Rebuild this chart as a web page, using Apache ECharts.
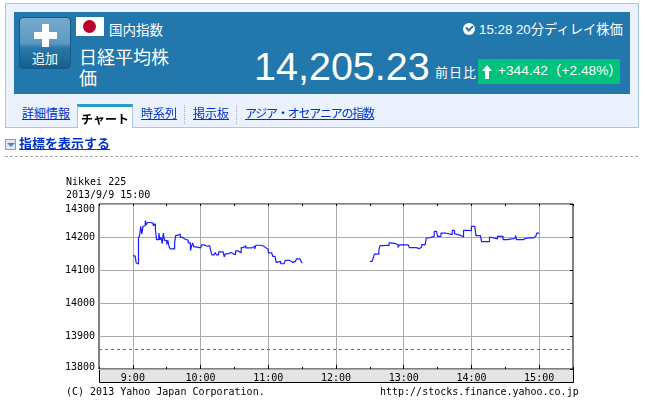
<!DOCTYPE html>
<html lang="ja">
<head>
<meta charset="utf-8">
<title>日経平均株価</title>
<script src="https://cdn.jsdelivr.net/npm/echarts@6/dist/echarts.min.js"></script>
<style>
html, body { margin: 0; padding: 0; background: #fff; overflow: hidden; }
body { width: 645px; height: 403px; position: relative; font-family: "Noto Sans CJK JP", sans-serif; }
#chart { position: absolute; left: 0; top: 0; width: 645px; height: 403px; }
.abs { position: absolute; white-space: nowrap; line-height: 1; }
#box { left: 5px; top: 3px; width: 632px; height: 123px; background: #ebf2fe; border: 1px solid #a9c6ea; }
#panel { left: 14px; top: 12px; width: 616px; height: 82px; background: #2277ad; }
#add { left: 19px; top: 17px; width: 50px; height: 50px; border: 1px solid #175a85; border-radius: 4px; background: linear-gradient(#74aacd, #5c9ac3 50%, #2a78a8 60%, #155f8e); color: #fff; }
#flag { left: 76px; top: 17px; width: 28px; height: 19px; background: #fff; }
#flag i { position: absolute; left: 7px; top: 3px; width: 13px; height: 13px; border-radius: 50%; background: #bc002d; }
.w { color: #fff; }
.tab { top: 107px; font-size: 12px; color: #0033cc; text-decoration: underline; }
.sep { top: 105px; height: 19px; border-left: 1px dotted #8fb4dc; }
#active { left: 77px; top: 104px; width: 54px; height: 21px; background: #fff; border-top: 3px solid #2a9ac8; border-left: 1px solid #a9c6ea; border-right: 1px solid #a9c6ea; text-align: center; font-size: 12px; font-weight: bold; line-height: 24px; color: #000; }
</style>
</head>
<body>
<div id="chart"></div>
<div class="abs" id="box"></div>
<div class="abs" id="panel"></div>
<div class="abs" id="add"></div>
<div class="abs" style="left:42px;top:24px;width:7px;height:23px;background:#fff"></div>
<div class="abs" style="left:34px;top:32px;width:23px;height:7px;background:#fff"></div>
<div class="abs w" style="left:32px;top:51px;font-size:13px">追加</div>
<div class="abs" id="flag"><i></i></div>
<div class="abs w" style="left:109px;top:23px;font-size:13.5px">国内指数</div>
<div class="abs w" style="left:79px;top:46px;font-size:18px;line-height:21px;width:90px;white-space:normal">日経平均株価</div>
<div class="abs w" style="left:254px;top:47px;font-size:39.5px;font-family:'Liberation Sans',sans-serif">14,205.23</div>
<div class="abs w" style="left:435px;top:65px;font-size:13px;letter-spacing:1px">前日比</div>
<div class="abs" style="left:478px;top:59px;width:142px;height:25px;background:#00c27c"></div>
<div class="abs" style="left:485px;top:70px;width:4px;height:9px;background:#fff"></div>
<div class="abs" style="left:482px;top:65px;width:0;height:0;border-left:5px solid transparent;border-right:5px solid transparent;border-bottom:6px solid #fff"></div>
<div class="abs w" style="left:498px;top:64px;font-size:13.7px;font-family:'Liberation Sans','Noto Sans CJK JP',sans-serif">+344.42（+2.48%）</div>
<div class="abs" style="left:463px;top:23px;width:12px;height:12px;border-radius:50%;background:#fff"></div>
<div class="abs" style="left:466px;top:25px;width:5px;height:3px;border-left:2px solid #2277ad;border-bottom:2px solid #2277ad;transform:rotate(-45deg)"></div>
<div class="abs w" style="left:479px;top:23px;font-size:13.3px;font-family:'Liberation Sans','Noto Sans CJK JP',sans-serif">15:28 20分ディレイ株価</div>
<div class="abs tab" style="left:22px">詳細情報</div>
<div class="abs" id="active">チャート</div>
<div class="abs tab" style="left:141px">時系列</div>
<div class="abs sep" style="left:184px"></div>
<div class="abs tab" style="left:193px">掲示板</div>
<div class="abs sep" style="left:236px"></div>
<div class="abs tab" style="left:245px;letter-spacing:-1.2px">アジア・オセアニアの指数</div>
<div class="abs" style="left:5px;top:139px;width:9px;height:9px;border:1px solid #8a9db5;background:#dfe8f3"></div>
<div class="abs" style="left:7px;top:143px;width:0;height:0;border-left:4px solid transparent;border-right:4px solid transparent;border-top:4px solid #4f86bd"></div>
<div class="abs" style="left:19px;top:136px;font-size:13px;font-weight:bold;color:#0033cc;text-decoration:underline">指標を表示する</div>
<div class="abs" style="left:5px;top:156px;width:633px;border-top:1px dashed #aaa"></div>
<script>
// half hour steps along the bottom, the labelled ones are the full hours
var timeLabels = ['8:30','9:00','9:30','10:00','10:30','11:00','11:30','12:00','12:30','13:00','13:30','14:00','14:30','15:00','15:30'];
// minutes after 9:00
var amMinutes = [0,2,3,4,5,6,7,8,9,10,11,12,13,15,18,19,20,21,23,24,25,26,27,28,30,31,32,33,37,38,40,42,44,46,47,49,51,52,53,54,56,57,60,61,63,66,68,69,70,72,73,74,76,80,81,82,84,87,89,91,93,96,98,100,104,106,108,109,114,116,118,120,123,124,126,127,128,131,134,135,139,140,142,144,145,148,149,150];
var amValues = [14143,14148,14121,14118,14197,14205,14232,14209,14232,14234,14250,14237,14244,14242,14234,14240,14222,14192,14212,14192,14199,14180,14212,14190,14177,14190,14172,14164,14182,14205,14209,14199,14194,14197,14190,14182,14159,14172,14182,14170,14176,14167,14165,14176,14172,14174,14168,14159,14146,14143,14153,14146,14155,14152,14140,14149,14153,14149,14146,14158,14152,14168,14174,14167,14168,14172,14164,14175,14172,14167,14162,14152,14148,14141,14139,14123,14126,14119,14121,14129,14126,14123,14126,14123,14134,14133,14126,14121];
var pmMinutes = [210,212,213,214,218,219,222,225,227,229,230,233,235,236,244,245,251,254,256,259,260,262,267,269,270,273,277,283,285,286,291,293,297,300,303,304,308,309,316,318,323,328,332,337,339,340,346,348,353,355,357,358,360];
var pmValues = [14126,14129,14136,14148,14162,14174,14175,14174,14182,14187,14180,14176,14168,14176,14175,14168,14165,14170,14177,14180,14197,14202,14217,14214,14202,14212,14207,14220,14210,14204,14200,14220,14219,14232,14227,14204,14202,14186,14199,14194,14202,14192,14195,14197,14205,14192,14196,14198,14197,14202,14204,14212,14210];
var prevClose = 13860.81;
var chartTitle = 'Nikkei 225\n2013/9/9 15:00';
var copyright = '(C) 2013 Yahoo Japan Corporation.';
var siteUrl = 'http://stocks.finance.yahoo.co.jp';

function pairs(mins, vals) {
  return mins.map(function(m, i) { return [540 + m, vals[i]]; });
}
function isHour(index) {
  return index % 2 === 1;
}

var mono = 'DejaVu Sans Mono';
var chart = echarts.init(document.getElementById('chart'), null, { renderer: 'canvas' });

chart.setOption({
  animation: false,
  backgroundColor: 'transparent',
  title: {
    text: chartTitle,
    left: 66,
    top: 176,
    padding: 0,
    textStyle: { fontFamily: mono, fontSize: 10, fontWeight: 'normal', color: '#000', lineHeight: 13 }
  },
  grid: { left: 99, top: 204, width: 474, height: 165, show: true, backgroundColor: '#fff', borderColor: '#000', borderWidth: 1 },
  graphic: [
    { type: 'rect', shape: { x: 99.5, y: 369.5, width: 474, height: 13 }, style: { fill: '#e4e4e4', stroke: '#000', lineWidth: 1 }, z: 0 },
    { type: 'text', x: 66, y: 387, style: { text: copyright, fontFamily: mono, fontSize: 10, fill: '#000' } },
    { type: 'text', x: 380, y: 387, style: { text: siteUrl, fontFamily: mono, fontSize: 10, fill: '#000' } }
  ],
  xAxis: [
    // hidden scale the price lines are drawn on
    { type: 'value', min: 510, max: 930, show: false, splitLine: { show: false } },
    {
      type: 'category', position: 'bottom', boundaryGap: false, data: timeLabels,
      axisLine: { show: false },
      axisTick: { show: true, inside: true, length: 4, interval: isHour, lineStyle: { color: '#000' } },
      splitLine: { show: true, interval: isHour, lineStyle: { color: '#aaa', width: 1 } },
      axisLabel: { margin: 4, fontFamily: mono, fontSize: 10, color: '#000', interval: isHour, hideOverlap: false }
    },
    {
      type: 'category', position: 'bottom', boundaryGap: false, data: timeLabels,
      axisLine: { show: false },
      axisTick: { show: true, inside: true, length: 2, interval: 0, lineStyle: { color: '#000' } },
      splitLine: { show: false }, axisLabel: { show: false }
    },
    {
      type: 'category', position: 'top', boundaryGap: false, data: timeLabels,
      axisLine: { show: false },
      axisTick: { show: true, inside: true, length: 2, interval: 0, lineStyle: { color: '#000' } },
      splitLine: { show: false }, axisLabel: { show: false }
    }
  ],
  yAxis: [
    {
      type: 'value', position: 'left', min: 13800, max: 14300, interval: 100,
      axisLine: { show: false },
      axisTick: { show: false },
      splitLine: { show: true, lineStyle: { color: '#aaa', width: 1 } },
      axisLabel: {
        margin: 4, fontFamily: mono, fontSize: 10, color: '#000',
        verticalAlignMaxLabel: 'top',
        formatter: function(v) { return v === 13800 ? '{low|' + v + '}' : String(v); },
        rich: { low: { fontFamily: mono, fontSize: 10, color: '#000', padding: [0, 0, 4, 0] } }
      }
    },
    {
      type: 'value', position: 'right', min: 13800, max: 14300, interval: 100,
      axisLine: { show: false },
      axisTick: { show: true, inside: true, length: 3, lineStyle: { color: '#000' } },
      splitLine: { show: false }, axisLabel: { show: false }
    }
  ],
  series: [
    {
      name: 'morning', type: 'line', step: 'end', showSymbol: false, silent: true,
      xAxisIndex: 0,
      lineStyle: { color: '#1c1cff', width: 1.2 },
      data: pairs(amMinutes, amValues),
      z: 5,
      markLine: {
        silent: true, symbol: 'none', label: { show: false },
        lineStyle: { color: '#ee3333', type: [3, 3], width: 1 },
        data: [{ yAxis: prevClose }]
      }
    },
    {
      name: 'afternoon', type: 'line', step: 'end', showSymbol: false, silent: true,
      xAxisIndex: 0,
      lineStyle: { color: '#1c1cff', width: 1.2 },
      data: pairs(pmMinutes, pmValues),
      z: 5
    }
  ]
});
</script>
</body>
</html>
